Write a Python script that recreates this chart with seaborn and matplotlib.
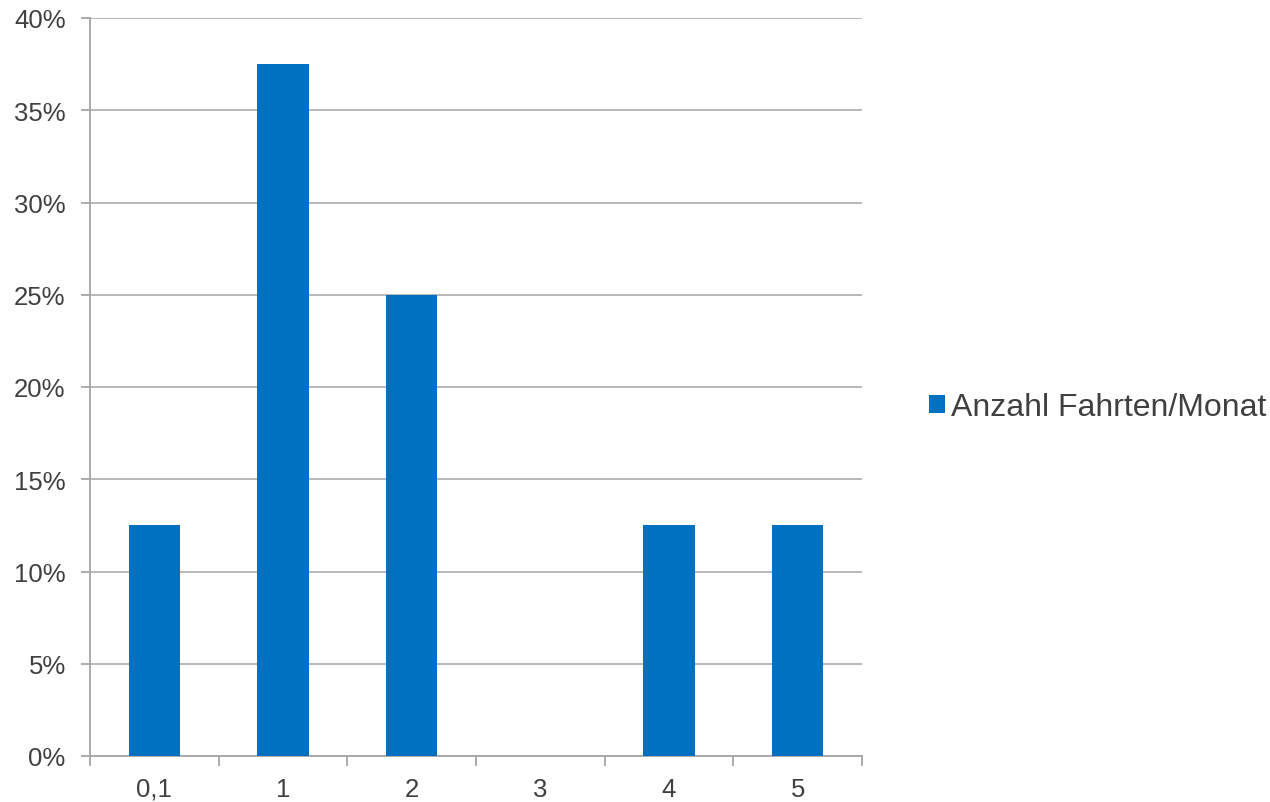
import matplotlib
matplotlib.use("Agg")
import matplotlib.pyplot as plt
from matplotlib.patches import Patch
from matplotlib.ticker import FixedLocator, PercentFormatter
import seaborn as sns
import pandas as pd
import numpy as np

# Trips per month and share of respondents
categories = ["0,1", "1", "2", "3", "4", "5"]
shares = [0.125, 0.375, 0.25, 0.0, 0.125, 0.125]
series_name = "Anzahl Fahrten/Monat"

bar_color = "#0070C0"
grid_color = "#B3B3B3"
text_color = "#404040"

sns.set_theme(style="white")
plt.rcParams["font.family"] = ["Liberation Sans", "DejaVu Sans"]

df = pd.DataFrame({"Fahrten": categories, "Anteil": shares})

fig = plt.figure(figsize=(12.7, 8.03), dpi=100)
ax = fig.add_axes([90 / 1270, 1 - 757 / 803, (862 - 90) / 1270, (757 - 19) / 803])

sns.barplot(data=df, x="Fahrten", y="Anteil", color=bar_color, width=0.4,
            saturation=1, linewidth=0, ax=ax, zorder=3)

ax.set_xlim(-0.5, len(categories) - 0.5)
ax.set_ylim(0, 0.40)
ax.yaxis.set_major_locator(FixedLocator(np.arange(0, 0.401, 0.05)))
ax.yaxis.set_major_formatter(PercentFormatter(1.0, decimals=0))

ax.grid(axis="y", color=grid_color, linewidth=1.3, zorder=0)
ax.set_axisbelow(True)

for side in ["top", "right"]:
    ax.spines[side].set_visible(False)
for side in ["left", "bottom"]:
    ax.spines[side].set_color("#A6A6A6")
    ax.spines[side].set_linewidth(1.3)

ax.set_xlabel("")
ax.set_ylabel("")

# category boundary ticks on the x axis
ax.xaxis.set_minor_locator(FixedLocator(np.arange(-0.5, len(categories), 1.0)))
ax.tick_params(axis="x", which="major", length=0, pad=15, labelsize=18.5, labelcolor=text_color)
ax.tick_params(axis="x", which="minor", bottom=True, length=7, width=1.3, color="#A6A6A6")
ax.tick_params(axis="y", which="major", left=True, length=6.5, width=1.3, color="#A6A6A6",
               pad=11, labelsize=18.5, labelcolor=text_color)

handle = Patch(facecolor=bar_color, edgecolor="none")
fig.legend([handle], [series_name], loc="center left", bbox_to_anchor=(916 / 1270, 1 - 408 / 803),
           frameon=False, fontsize=23, handlelength=0.5, handleheight=0.5,
           handletextpad=0.2, labelcolor=text_color, borderaxespad=0)

fig.savefig("out.png", dpi=100)
